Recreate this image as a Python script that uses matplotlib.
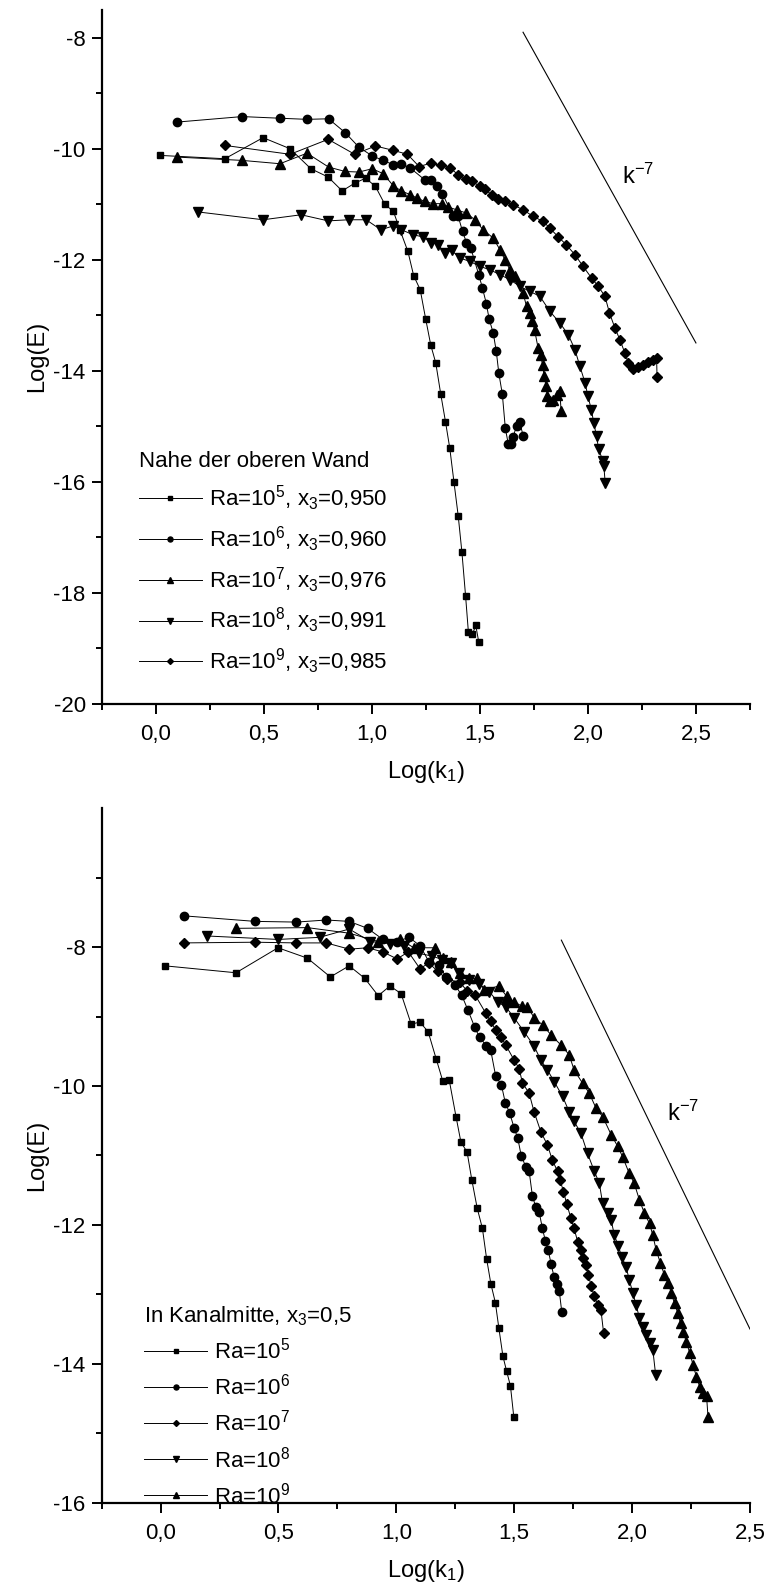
import numpy as np
import matplotlib
matplotlib.use("Agg")
import matplotlib.pyplot as plt
from matplotlib.ticker import FixedLocator, FuncFormatter

plt.rcParams['font.family'] = ['Liberation Sans', 'DejaVu Sans']
plt.rcParams['mathtext.fontset'] = 'custom'
plt.rcParams['mathtext.rm'] = 'Liberation Sans'
plt.rcParams['mathtext.it'] = 'Liberation Sans'
plt.rcParams['axes.unicode_minus'] = False

# ---- oben: nahe der oberen Wand ----
top_k5 = [0.02, 0.32, 0.497, 0.622, 0.718, 0.798, 0.863, 0.921, 0.972, 1.017, 1.06, 1.10, 1.13,
          1.167, 1.194, 1.224, 1.249, 1.273, 1.296, 1.319, 1.341, 1.361, 1.38, 1.40, 1.417, 1.434,
          1.447, 1.466, 1.481, 1.495]
top_E5 = [-10.12, -10.18, -9.80, -10.00, -10.36, -10.51, -10.76, -10.62, -10.53, -10.68, -11.0, -11.13, -11.46,
          -11.85, -12.29, -12.54, -13.06, -13.54, -13.86, -14.42, -14.92, -15.40, -16.0, -16.62, -17.27, -18.06,
          -18.71, -18.75, -18.59, -18.89]

top_k6 = [0.097, 0.40, 0.575, 0.70, 0.80, 0.877, 0.94, 1.002, 1.053, 1.10, 1.137, 1.179, 1.245, 1.273,
          1.303, 1.327, 1.377, 1.40, 1.42, 1.438, 1.458, 1.495, 1.512, 1.53, 1.543, 1.562, 1.576, 1.588,
          1.604, 1.618, 1.632, 1.642, 1.654, 1.67, 1.685, 1.70]
top_E6 = [-9.52, -9.42, -9.45, -9.47, -9.46, -9.71, -9.97, -10.13, -10.21, -10.29, -10.27, -10.35, -10.56, -10.56,
          -10.68, -10.81, -11.22, -11.22, -11.49, -11.69, -11.79, -12.27, -12.51, -12.79, -13.07, -13.32, -13.65, -14.05,
          -14.42, -15.04, -15.33, -15.33, -15.19, -15.0, -14.93, -15.17]

top_k7 = [0.097, 0.40, 0.575, 0.70, 0.80, 0.877, 0.94, 1.002, 1.053, 1.10, 1.137, 1.179, 1.21, 1.245,
          1.284, 1.323, 1.354, 1.392, 1.438, 1.477, 1.515, 1.562, 1.593, 1.616, 1.639, 1.662, 1.70, 1.716,
          1.731, 1.742, 1.753, 1.77, 1.781, 1.79, 1.798, 1.806, 1.813, 1.824, 1.84, 1.855, 1.87, 1.876]
top_E7 = [-10.15, -10.21, -10.27, -10.08, -10.33, -10.41, -10.42, -10.36, -10.45, -10.67, -10.76, -10.83, -10.89, -10.95,
          -10.99, -10.99, -11.05, -11.10, -11.16, -11.28, -11.46, -11.61, -11.82, -12.0, -12.18, -12.30, -12.60, -12.84,
          -12.96, -13.11, -13.26, -13.60, -13.72, -13.89, -14.10, -14.27, -14.45, -14.55, -14.52, -14.43, -14.37, -14.72]

top_k8 = [0.198, 0.497, 0.673, 0.798, 0.894, 0.974, 1.042, 1.10, 1.137, 1.191, 1.238, 1.276, 1.307, 1.338,
          1.369, 1.407, 1.454, 1.50, 1.546, 1.593, 1.639, 1.685, 1.731, 1.778, 1.824, 1.87, 1.909, 1.94,
          1.963, 1.987, 2.00, 2.016, 2.027, 2.04, 2.05, 2.07, 2.074, 2.08]
top_E8 = [-11.14, -11.28, -11.19, -11.30, -11.28, -11.28, -11.46, -11.39, -11.46, -11.55, -11.59, -11.69, -11.73, -11.88,
          -11.83, -11.97, -12.03, -12.12, -12.18, -12.27, -12.36, -12.48, -12.57, -12.66, -12.93, -13.14, -13.35, -13.62,
          -13.92, -14.22, -14.46, -14.70, -14.94, -15.18, -15.42, -15.63, -15.72, -16.02]

top_k9 = [0.32, 0.622, 0.798, 0.921, 1.017, 1.10, 1.165, 1.219, 1.273, 1.319, 1.361, 1.40, 1.434, 1.466,
          1.50, 1.523, 1.555, 1.586, 1.616, 1.654, 1.70, 1.747, 1.793, 1.824, 1.863, 1.90, 1.94, 1.978,
          2.017, 2.048, 2.079, 2.10, 2.125, 2.148, 2.171, 2.187, 2.21, 2.234, 2.256, 2.279, 2.303, 2.318, 2.32]
top_E9 = [-9.94, -10.10, -9.83, -10.10, -9.95, -10.03, -10.10, -10.32, -10.26, -10.30, -10.34, -10.47, -10.54, -10.59,
          -10.68, -10.73, -10.83, -10.90, -10.95, -11.01, -11.10, -11.22, -11.31, -11.43, -11.59, -11.73, -11.91, -12.12,
          -12.33, -12.48, -12.66, -12.96, -13.23, -13.44, -13.68, -13.86, -13.97, -13.93, -13.89, -13.85, -13.80, -13.77, -14.11]

# ---- unten: Kanalmitte ----
mid_k5 = [0.018, 0.32, 0.498, 0.623, 0.72, 0.80, 0.866, 0.923, 0.973, 1.02, 1.063, 1.10, 1.135, 1.169,
          1.197, 1.224, 1.253, 1.274, 1.30, 1.32, 1.343, 1.365, 1.383, 1.401, 1.42, 1.435, 1.452, 1.468,
          1.484, 1.498]
mid_E5 = [-8.27, -8.37, -8.01, -8.16, -8.43, -8.27, -8.45, -8.70, -8.56, -8.67, -9.11, -9.08, -9.22, -9.61,
          -9.93, -9.91, -10.44, -10.81, -10.95, -11.35, -11.76, -12.05, -12.49, -12.85, -13.12, -13.49, -13.89, -14.11,
          -14.32, -14.76]

mid_k6 = [0.098, 0.401, 0.576, 0.703, 0.80, 0.878, 0.943, 1.003, 1.054, 1.10, 1.14, 1.18, 1.211, 1.247,
          1.277, 1.304, 1.332, 1.353, 1.382, 1.40, 1.421, 1.446, 1.462, 1.481, 1.50, 1.515, 1.53, 1.549,
          1.563, 1.577, 1.591, 1.606, 1.619, 1.632, 1.644, 1.657, 1.669, 1.681, 1.691, 1.702]
mid_E6 = [-7.55, -7.63, -7.64, -7.61, -7.63, -7.73, -7.89, -7.92, -7.86, -7.98, -8.22, -8.26, -8.43, -8.54,
          -8.69, -8.91, -9.15, -9.30, -9.42, -9.48, -9.85, -9.99, -10.24, -10.39, -10.61, -10.75, -11.01, -11.16,
          -11.22, -11.58, -11.74, -11.82, -12.04, -12.23, -12.36, -12.57, -12.75, -12.85, -12.95, -13.26]

mid_k7 = [0.098, 0.401, 0.576, 0.703, 0.80, 0.878, 0.943, 1.003, 1.051, 1.10, 1.138, 1.176, 1.213, 1.27,
          1.30, 1.334, 1.379, 1.40, 1.421, 1.443, 1.464, 1.50, 1.521, 1.535, 1.563, 1.584, 1.613, 1.641,
          1.662, 1.684, 1.694, 1.709, 1.723, 1.74, 1.754, 1.769, 1.783, 1.793, 1.804, 1.815, 1.826, 1.84,
          1.854, 1.868, 1.879]
mid_E7 = [-7.94, -7.93, -7.94, -7.94, -8.03, -8.01, -8.07, -8.17, -8.07, -8.31, -8.23, -8.35, -8.46, -8.51,
          -8.63, -8.69, -8.95, -9.07, -9.19, -9.29, -9.41, -9.63, -9.75, -9.96, -10.10, -10.37, -10.66, -10.85,
          -11.07, -11.23, -11.35, -11.52, -11.70, -11.90, -12.05, -12.24, -12.36, -12.48, -12.58, -12.72, -12.88, -13.03,
          -13.15, -13.23, -13.55]

mid_k8 = [0.196, 0.498, 0.674, 0.80, 0.89, 0.975, 1.031, 1.095, 1.152, 1.195, 1.23, 1.266, 1.309, 1.351,
          1.394, 1.43, 1.464, 1.50, 1.542, 1.585, 1.613, 1.641, 1.67, 1.705, 1.733, 1.754, 1.783, 1.811,
          1.84, 1.861, 1.875, 1.896, 1.911, 1.925, 1.942, 1.956, 1.974, 1.988, 2.003, 2.017, 2.031, 2.045,
          2.06, 2.074, 2.088, 2.10]
mid_E8 = [-7.84, -7.89, -7.86, -7.74, -7.92, -7.95, -7.99, -8.09, -8.13, -8.18, -8.23, -8.38, -8.47, -8.53,
          -8.64, -8.79, -8.86, -9.02, -9.22, -9.43, -9.63, -9.77, -9.94, -10.15, -10.37, -10.51, -10.68, -10.97,
          -11.23, -11.40, -11.69, -11.83, -11.93, -12.15, -12.31, -12.46, -12.60, -12.79, -12.98, -13.15, -13.34, -13.47,
          -13.59, -13.70, -13.80, -14.16]

mid_k9 = [0.32, 0.623, 0.80, 0.923, 1.017, 1.074, 1.166, 1.199, 1.23, 1.272, 1.309, 1.343, 1.371, 1.435,
          1.468, 1.50, 1.532, 1.556, 1.585, 1.62, 1.655, 1.698, 1.733, 1.754, 1.79, 1.818, 1.847, 1.875,
          1.911, 1.939, 1.96, 1.988, 2.009, 2.031, 2.052, 2.074, 2.088, 2.102, 2.12, 2.137, 2.154, 2.166,
          2.18, 2.194, 2.206, 2.216, 2.23, 2.245, 2.259, 2.273, 2.287, 2.302, 2.316, 2.322]
mid_E9 = [-7.73, -7.72, -7.80, -7.92, -7.89, -8.01, -8.01, -8.16, -8.22, -8.37, -8.45, -8.45, -8.62, -8.56,
          -8.71, -8.79, -8.85, -8.86, -9.02, -9.12, -9.26, -9.41, -9.55, -9.77, -9.96, -10.10, -10.32, -10.44,
          -10.70, -10.87, -11.02, -11.26, -11.40, -11.64, -11.83, -11.98, -12.15, -12.36, -12.55, -12.72, -12.84, -12.98,
          -13.13, -13.27, -13.42, -13.54, -13.68, -13.85, -14.02, -14.19, -14.33, -14.42, -14.47, -14.76]

# k^-7 Referenzgerade
slope_k = [1.70, 2.50]
slope_E = [-7.9, -13.5]

top_labels = ['Ra=10$^5$, x$_3$=0,950', 'Ra=10$^6$, x$_3$=0,960', 'Ra=10$^7$, x$_3$=0,976',
              'Ra=10$^8$, x$_3$=0,991', 'Ra=10$^9$, x$_3$=0,985']
mid_labels = ['Ra=10$^5$', 'Ra=10$^6$', 'Ra=10$^7$', 'Ra=10$^8$', 'Ra=10$^9$']
markers = ['s', 'o', '^', 'v', 'D']
msizes = [5, 6, 6.5, 6.5, 5]

comma = FuncFormatter(lambda v, p: ('%.1f' % v).replace('.', ','))


def style_axes(ax, xmax, ymin, ymax, yticks, yminor):
    ax.set_xlim(-0.25, xmax)
    ax.set_ylim(ymin, ymax)
    for s in ['top', 'right']:
        ax.spines[s].set_visible(False)
    for s in ['left', 'bottom']:
        ax.spines[s].set_linewidth(1.6)
    ax.xaxis.set_major_locator(FixedLocator([0, 0.5, 1.0, 1.5, 2.0, 2.5]))
    ax.xaxis.set_minor_locator(FixedLocator(np.arange(-0.25, xmax + 0.01, 0.5)))
    ax.yaxis.set_major_locator(FixedLocator(yticks))
    ax.yaxis.set_minor_locator(FixedLocator(yminor))
    ax.xaxis.set_major_formatter(comma)
    ax.tick_params(which='major', direction='out', length=7.5, width=1.4, labelsize=16)
    ax.tick_params(which='minor', direction='out', length=4.5, width=1.4)
    ax.tick_params(axis='x', which='major', pad=7)
    ax.tick_params(axis='y', which='major', pad=4)
    ax.set_xlabel('Log(k$_1$)', fontsize=17, labelpad=10)
    ax.set_ylabel('Log(E)', fontsize=17, labelpad=4)


fig = plt.figure(figsize=(7.68, 15.95), dpi=100)
ax1 = fig.add_axes([0.1324, 0.5589, 0.8441, 0.4348])
ax2 = fig.add_axes([0.1324, 0.0579, 0.8441, 0.4354])

top_sets = [(top_k5, top_E5), (top_k6, top_E6), (top_k7, top_E7), (top_k8, top_E8), (top_k9, top_E9)]
for (k, E), m, ms, lab in zip(top_sets, markers, msizes, top_labels):
    ax1.plot(k, E, color='black', lw=0.7, marker=m, ms=ms, mec='black', mfc='black', label=lab)
ax1.plot(slope_k, slope_E, color='black', lw=0.8)
ax1.text(2.16, -10.5, 'k$^{-7}$', fontsize=17, va='center', ha='left')
style_axes(ax1, 2.75, -20, -7.5, [-20, -18, -16, -14, -12, -10, -8], np.arange(-19, -8, 2))
leg1 = ax1.legend(loc='upper left', bbox_to_anchor=(0.04, 0.38), frameon=False, fontsize=16,
                  title='Nahe der oberen Wand', title_fontsize=16, alignment='left', borderpad=0,
                  handlelength=2.85, handletextpad=0.32, labelspacing=0.51, markerscale=0.6)

mid_sets = [(mid_k5, mid_E5), (mid_k6, mid_E6), (mid_k7, mid_E7), (mid_k8, mid_E8), (mid_k9, mid_E9)]
mid_markers = ['s', 'o', 'D', 'v', '^']
mid_ms = [5, 6, 5, 6.5, 6.5]
for (k, E), m, ms, lab in zip(mid_sets, mid_markers, mid_ms, mid_labels):
    ax2.plot(k, E, color='black', lw=0.7, marker=m, ms=ms, mec='black', mfc='black', label=lab)
ax2.plot(slope_k, slope_E, color='black', lw=0.8)
ax2.text(2.15, -10.39, 'k$^{-7}$', fontsize=17, va='center', ha='left')
style_axes(ax2, 2.5, -16, -6, [-16, -14, -12, -10, -8], np.arange(-15, -6, 2))
leg2 = ax2.legend(loc='upper left', bbox_to_anchor=(0.048, 0.302), frameon=False, fontsize=16,
                  title='In Kanalmitte, x$_3$=0,5', title_fontsize=16, alignment='left', borderpad=0,
                  handlelength=2.85, handletextpad=0.32, labelspacing=0.46, markerscale=0.6)

fig.savefig('out.png', dpi=100)
